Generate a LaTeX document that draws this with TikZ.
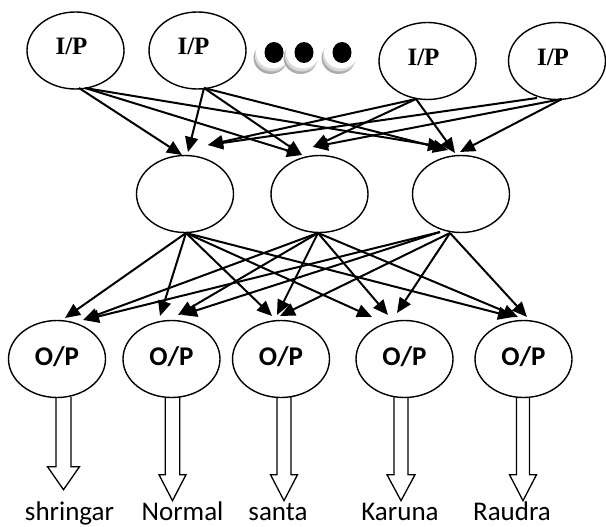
\documentclass[tikz,border=0pt]{standalone}
\usepackage{fontspec}
\setmainfont{Liberation Serif}
\newfontfamily\calfont{Carlito}
\usetikzlibrary{arrows.meta,shapes.geometric}
\begin{document}
\begin{tikzpicture}[x=1pt,y=-1pt,
  neuron/.style={draw, ellipse, line width=1.4pt, minimum width=97pt, minimum height=77pt, inner sep=0pt},
  inp/.style={neuron, font=\fontsize{25}{25}\selectfont\bfseries},
  outp/.style={neuron, font=\fontsize{27}{27}\calfont\bfseries},
  edge/.style={line width=2pt, -{Triangle[length=15pt,width=13pt]}},
  blockarrow/.style={draw, line width=1.3pt, line join=miter},
  lbl/.style={font=\fontsize{27}{27}\calfont, anchor=base, inner sep=0pt}]
\useasboundingbox (0,0) rectangle (606,527);

% input nodes
\node[inp] (i1) at (75.5,50.5) {\raisebox{4pt}[\height][\depth]{I/P\kern8pt}};
\node[inp] (i2) at (197.5,50.5) {\raisebox{4pt}[\height][\depth]{I/P\kern8pt}};
\node[inp] (i3) at (427.5,61) {\raisebox{4pt}[\height][\depth]{I/P\kern8pt}};
\node[inp] (i4) at (557,61) {\raisebox{4pt}[\height][\depth]{I/P\kern8pt}};

% dots
\foreach \cx in {273,303,341} {
  \fill[gray!65] (\cx-2.5,58) ellipse [x radius=17pt, y radius=16pt];
  \fill[gray!30] (\cx-1.2,55.5) ellipse [x radius=17pt, y radius=16pt];
  \fill[white] (\cx,52.5) ellipse [x radius=17pt, y radius=16pt];
  \fill[black] (\cx+1,52.5) ellipse [x radius=9.5pt, y radius=10.5pt];
}

% hidden nodes
\node[neuron] (h1) at (185,194) {};
\node[neuron] (h2) at (319.5,194) {};
\node[neuron] (h3) at (461,194) {};

% output nodes
\node[outp] (o1) at (57,359) {\raisebox{2pt}[\height][\depth]{O/P}};
\node[outp] (o2) at (171.5,359) {\raisebox{2pt}[\height][\depth]{O/P}};
\node[outp] (o3) at (281,359) {\raisebox{2pt}[\height][\depth]{O/P}};
\node[outp] (o4) at (404.5,359) {\raisebox{2pt}[\height][\depth]{O/P}};
\node[outp] (o5) at (523.5,359) {\raisebox{2pt}[\height][\depth]{O/P}};

% input -> hidden
\draw[edge] ([shift={(3.5,37.5)}]i1.center) -- ([shift={(-3,-39)}]h1.center);
\draw[edge] ([shift={(9.5,37.5)}]i1.center) -- ([shift={(-17.5,-39)}]h2.center);
\draw[edge] ([shift={(9.5,37.5)}]i1.center) -- ([shift={(-18,-47)}]h3.center);
\draw[edge] ([shift={(6.5,37.5)}]i2.center) -- ([shift={(3,-42)}]h1.center);
\draw[edge] ([shift={(6.5,37.5)}]i2.center) -- ([shift={(-17.5,-39)}]h2.center);
\draw[edge] ([shift={(6.5,37.5)}]i2.center) -- ([shift={(-13,-44)}]h3.center);
\draw[edge] ([shift={(-11.5,38)}]i3.center) -- ([shift={(23,-49)}]h1.center);
\draw[edge] ([shift={(-11.5,38)}]i3.center) -- ([shift={(-6.5,-47)}]h2.center);
\draw[edge] ([shift={(-11.5,38)}]i3.center) -- ([shift={(-6,-41)}]h3.center);
\draw[edge] ([shift={(-20,37)}]i4.center) -- ([shift={(23,-49)}]h1.center);
\draw[edge] ([shift={(5,38)}]i4.center) -- ([shift={(-6.5,-47)}]h2.center);
\draw[edge] ([shift={(5,38)}]i4.center) -- ([shift={(-1,-42)}]h3.center);

% hidden -> output
\draw[edge] ([shift={(1,39)}]h1.center) -- ([shift={(8,-41)}]o1.center);
\draw[edge] ([shift={(1,39)}]h1.center) -- ([shift={(-11.5,-43)}]o2.center);
\draw[edge] ([shift={(1,39)}]h1.center) -- ([shift={(-9,-43)}]o3.center);
\draw[edge] ([shift={(1,39)}]h1.center) -- ([shift={(-32.5,-42)}]o4.center);
\draw[edge] ([shift={(1,39)}]h1.center) -- ([shift={(-10.5,-42)}]o5.center);
\draw[edge] ([shift={(-1.5,39)}]h2.center) -- ([shift={(26,-39)}]o1.center);
\draw[edge] ([shift={(-1.5,39)}]h2.center) -- ([shift={(6.5,-44)}]o2.center);
\draw[edge] ([shift={(-1.5,39)}]h2.center) -- ([shift={(-4,-44)}]o3.center);
\draw[edge] ([shift={(-1.5,39)}]h2.center) -- ([shift={(-16.5,-44)}]o4.center);
\draw[edge] ([shift={(-1.5,39)}]h2.center) -- ([shift={(-5.5,-42)}]o5.center);
\draw[edge] ([shift={(-21,38)}]h3.center) -- ([shift={(27,-39)}]o1.center);
\draw[edge] ([shift={(-21,38)}]h3.center) -- ([shift={(10.5,-44)}]o2.center);
\draw[edge] ([shift={(-11,39)}]h3.center) -- ([shift={(-1,-43)}]o3.center);
\draw[edge] ([shift={(-11,39)}]h3.center) -- ([shift={(-7.5,-46)}]o4.center);
\draw[edge] ([shift={(-11,39)}]h3.center) -- ([shift={(3.5,-42)}]o5.center);

% block arrows
\foreach \n/\dx/\sh/\hh/\yb/\yt in {o1/6.5/7.5/16/68.5/91.5, o2/1/7.2/13.5/76.5/102.5, o3/3/7/13.5/76.5/102.5, o4/-3.5/7/14/76.5/102.5, o5/-0.5/6.5/13.5/76.5/102.5}
  \draw[blockarrow] ([shift={(\dx-\sh,-1)}]\n.south) -- ([shift={(\dx-\sh,\yb)}]\n.south) -- ([shift={(\dx-\hh,\yb)}]\n.south) -- ([shift={(\dx,\yt)}]\n.south) -- ([shift={(\dx+\hh,\yb)}]\n.south) -- ([shift={(\dx+\sh,\yb)}]\n.south) -- ([shift={(\dx+\sh,-1)}]\n.south);

% labels
\node[lbl] (l1) at (69.5,520) {shringar};
\node[lbl] (l2) at (182.5,520) {Normal};
\node[lbl] (l3) at (278,520) {santa};
\node[lbl] (l4) at (400,520) {Karuna};
\node[lbl] (l5) at (512,520) {Raudra};
\end{tikzpicture}
\end{document}
